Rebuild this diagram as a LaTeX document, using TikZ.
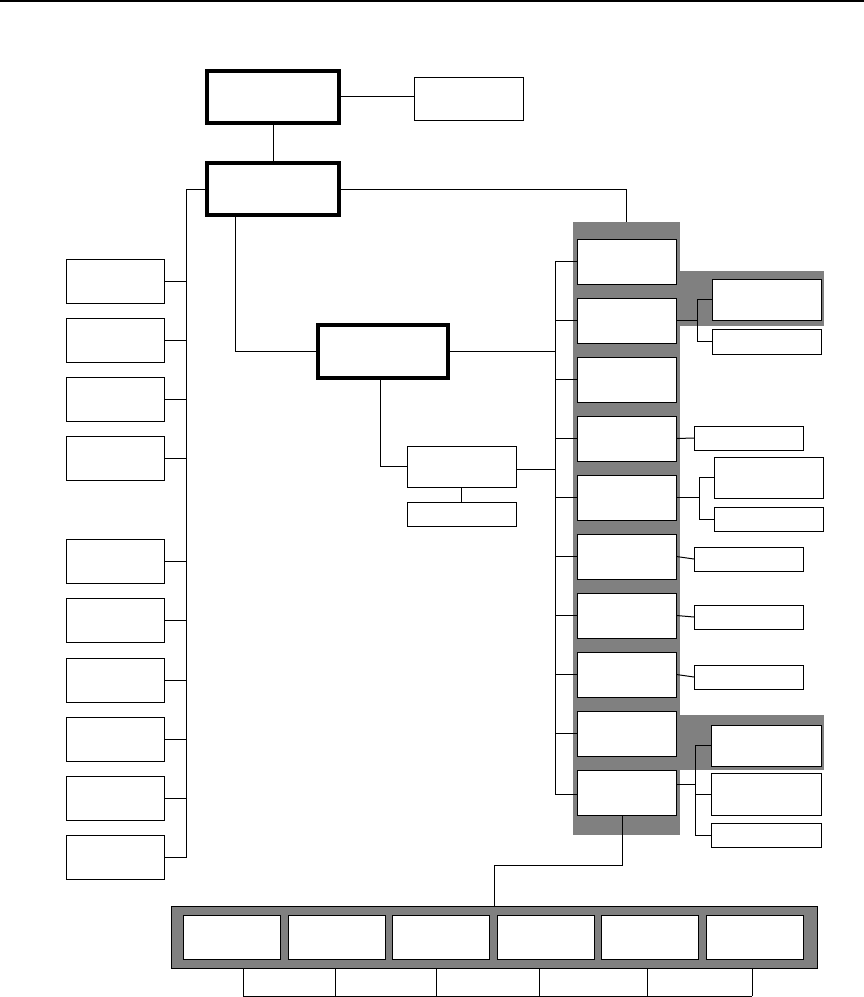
\documentclass[tikz,border=0pt]{standalone}
\usetikzlibrary{positioning}
\tikzset{
  box/.style={draw, fill=white, line width=1pt, inner sep=0pt, minimum width=98pt, minimum height=44pt},
  headbox/.style={box, line width=4pt, minimum width=132pt, minimum height=52pt},
  slimbox/.style={box, minimum width=109pt, minimum height=24pt},
  link/.style={line width=1pt},
  panel/.style={fill=gray}
}
\begin{document}
\begin{tikzpicture}[x=1pt,y=-1pt]
\useasboundingbox (0,0) rectangle (864,997);
\draw[line width=2pt] (0,1) -- (864,1);
% top of the tree
\node[headbox] (top) at (273,97) {};
\node[box, minimum width=109pt, minimum height=43pt] (side) at (468.5,98.5) {};
\node[headbox] (main) at (273,189) {};
\node[headbox, minimum width=130pt, minimum height=53pt] (mid) at (383,351.5) {};
\node[box, minimum width=109pt, minimum height=41pt] (sub) at (461.5,466.5) {};
\node[slimbox] (subnote) at (461.5,514) {};
\draw[link] ([yshift=1pt]top.east) -- ([yshift=1pt]side.west |- top.east);
\draw[link] (top.south) -- (main.north);
\draw[link] (sub.south) -- (subnote.north);
\draw[link] ([xshift=-38pt]main.south) |- (mid.west);
\draw[link] ([xshift=-3pt]mid.south) |- (sub.west);
% left column
\coordinate (lbus) at (186,858);
\foreach \y [count=\i] in {281,340,399,458,561.5,620.5,680,739,798,857}
  \node[box] (L\i) at (115,\y) {};
\draw[link] (main.west) -| (lbus);
\foreach \i in {1,...,10}
  \draw[link] (L\i.east) -- (L\i.east -| lbus);
% grey panels on the right
\node[panel, inner sep=0pt, minimum width=107pt, minimum height=613pt] (spine) at (626.5,528.5) {};
\fill[gray] (680,271) rectangle (824,326);
\fill[gray] (680,715) rectangle (824,770);
\draw[link] (main.east) -| (spine.north);
\coordinate (rbus) at (555,0);
\foreach \i in {1,...,10}
  \node[box, minimum width=99pt, minimum height=45pt] (R\i) at (626.5,{261.5+59*(\i-1)}) {};
\draw[link] (R1.west -| rbus) -- ([yshift=-1.5pt]R10.west -| rbus);
\foreach \i in {1,...,9}
  \draw[link] (R\i.west) -- (R\i.west -| rbus);
\draw[link] ([yshift=-1.5pt]R10.west) -- ([yshift=-1.5pt]R10.west -| rbus);
\draw[link] (mid.east) -- (mid.east -| rbus);
\draw[link] ([yshift=-2.5pt]sub.east) -- ([yshift=-2.5pt]sub.east -| rbus);
% right branches
\node[box, minimum width=109pt, minimum height=41pt] (G1) at (766.5,299.5) {};
\node[box, minimum width=109pt, minimum height=25pt] (G2) at (766.5,341.5) {};
\coordinate (j2) at ([xshift=21pt]R2.east);
\draw[link] (R2.east) -- (j2);
\draw[link] (G1.west) -| (j2) |- (G2.west);
\node[slimbox] (H4) at (749,438) {};
\draw[link] (R4.east) -- (H4.west);
\node[box, minimum width=109pt, minimum height=41pt] (I1) at (768.5,477.5) {};
\node[slimbox] (I2) at (769,519) {};
\coordinate (j5) at ([xshift=23pt]R5.east);
\draw[link] (R5.east) -- (j5);
\draw[link] (I1.west) -| (j5) |- (I2.west);
\node[slimbox] (K6) at (749,559) {};
\node[slimbox] (K7) at (749,617) {};
\node[slimbox] (K8) at (749,677) {};
\foreach \i in {6,7,8}
  \draw[link] (R\i.east) -- (K\i.west);
\node[box, minimum width=110pt, minimum height=41pt] (J1) at (766,745.5) {};
\node[box, minimum width=110pt, minimum height=42pt] (J2) at (766,794) {};
\node[box, minimum width=110pt, minimum height=24pt] (J3) at (766,835) {};
\coordinate (j10) at ([xshift=19pt,yshift=8pt]R10.east);
\draw[link] ([yshift=8pt]R10.east) -- (j10);
\draw[link] (J1.west) -| (j10) |- (J3.west);
\draw[link] (j10 |- J2.west) -- (J2.west);
% bottom strip
\node[draw, fill=gray, line width=1pt, inner sep=0pt, minimum width=646pt, minimum height=62pt] (strip) at (494,937) {};
\foreach \i in {1,...,6}
  \node[box, minimum width=97pt] (S\i) at ({232+104.5*(\i-1)},937) {};
\draw[link] ([xshift=-4pt]R10.south) -- ++(0,50) -| (strip.north);
\coordinate (bl) at (243,996);
\coordinate (br) at (752,996);
\foreach \x in {243,335,436,539,647,752}
  \draw[link] (strip.south -| \x,0) -- (bl -| \x,0);
\draw[link] (bl) -- (br);
\end{tikzpicture}
\end{document}
